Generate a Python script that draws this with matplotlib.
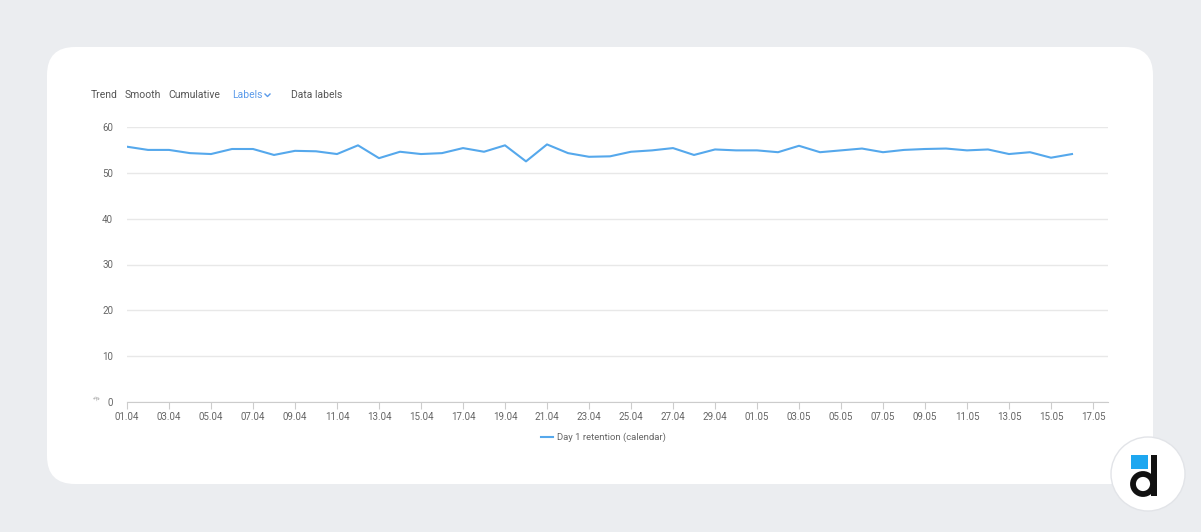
import matplotlib.pyplot as plt
from matplotlib.patches import FancyBboxPatch, Circle, Rectangle
from matplotlib.lines import Line2D

plt.rcParams['font.family'] = ['Roboto', 'DejaVu Sans']

# Day 1 retention, 01.04 .. 16.05
dates = ['01.04', '02.04', '03.04', '04.04', '05.04', '06.04', '07.04', '08.04', '09.04', '10.04',
         '11.04', '12.04', '13.04', '14.04', '15.04', '16.04', '17.04', '18.04', '19.04', '20.04',
         '21.04', '22.04', '23.04', '24.04', '25.04', '26.04', '27.04', '28.04', '29.04', '30.04',
         '01.05', '02.05', '03.05', '04.05', '05.05', '06.05', '07.05', '08.05', '09.05', '10.05',
         '11.05', '12.05', '13.05', '14.05', '15.05', '16.05']
retention = [55.7, 55.0, 55.0, 54.3, 54.1, 55.2, 55.2, 53.9, 54.8, 54.7,
             54.1, 56.0, 53.2, 54.6, 54.1, 54.3, 55.4, 54.6, 56.0, 52.5,
             56.2, 54.3, 53.5, 53.6, 54.6, 54.9, 55.4, 53.9, 55.1, 54.9,
             54.9, 54.5, 55.9, 54.5, 54.9, 55.3, 54.5, 55.0, 55.2, 55.3,
             54.9, 55.1, 54.1, 54.5, 53.3, 54.1]
tick_labels = ['01.04', '03.04', '05.04', '07.04', '09.04', '11.04', '13.04', '15.04', '17.04',
               '19.04', '21.04', '23.04', '25.04', '27.04', '29.04', '01.05', '03.05', '05.05',
               '07.05', '09.05', '11.05', '13.05', '15.05', '17.05']
y_ticks = [0, 10, 20, 30, 40, 50, 60]
toolbar = ['Trend', 'Smooth', 'Cumulative', 'Labels', 'Data labels']

W, H = 1201, 532
fig = plt.figure(figsize=(W / 100, H / 100), dpi=100)
fig.patch.set_facecolor('#ebedf0')

# background layer in pixel coordinates
bg = fig.add_axes([0, 0, 1, 1])
bg.set_xlim(0, W)
bg.set_ylim(H, 0)
bg.axis('off')
bg.add_patch(FancyBboxPatch((47, 47), 1106, 437, boxstyle='round,pad=0,rounding_size=28',
                            fc='white', ec='none'))

# toolbar
tb_x = [91, 125, 168, 232, 291]
for name, x in zip(toolbar, tb_x):
    col = '#5b9bea' if name == 'Labels' else '#555555'
    bg.text(x, 95, name, fontsize=7.5, color=col, va='center', ha='left')
bg.add_line(Line2D([265, 267.5, 270], [94, 96.5, 94], color='#5b9bea', lw=1))

# logo
bg.add_patch(Circle((1148, 474), 37, fc='white', ec='#e2e4e8', lw=1))
bg.add_patch(Rectangle((1131, 455), 17, 14, fc='#1ea7f0', ec='none'))
bg.add_patch(Circle((1143, 484), 10, fc='none', ec='#111111', lw=4.2))
bg.add_patch(Rectangle((1151, 455), 6, 41, fc='#111111', ec='none'))

# chart
left, right, top, bottom = 127, 1108, 127, 402
ax = fig.add_axes([left / W, 1 - bottom / H, (right - left) / W, (bottom - top) / H])
x = list(range(len(dates)))
ax.plot(x, retention, color='#55a8ec', lw=1.5)
ax.set_xlim(0, (right - left) / 21.0)
ax.set_ylim(0, 60)
ax.set_yticks(y_ticks)
ax.set_yticklabels([str(v) for v in y_ticks])
ax.set_xticks(range(0, 2 * len(tick_labels), 2))
ax.set_xticklabels(tick_labels)
ax.grid(axis='y', color='#e8e8e8', lw=1)
ax.set_axisbelow(True)
for s in ['top', 'right', 'left']:
    ax.spines[s].set_visible(False)
ax.spines['bottom'].set_color('#cccccc')
ax.tick_params(axis='y', length=0, pad=10, labelsize=7, labelcolor='#666666')
ax.tick_params(axis='x', length=5, color='#cccccc', pad=2, labelsize=7, labelcolor='#666666')
ax.axhline(60, color='#d9d9d9', lw=1.2, zorder=0)
ax.set_facecolor('none')

bg.text(97, 399, '%', fontsize=5, color='#888888', rotation=45, ha='center', va='center')

# legend
bg.add_line(Line2D([541, 553], [437, 437], color='#55a8ec', lw=1.5))
bg.text(557, 437, 'Day 1 retention (calendar)', fontsize=6.8, color='#666666', va='center')

fig.savefig('out.png', dpi=100, facecolor=fig.get_facecolor())
